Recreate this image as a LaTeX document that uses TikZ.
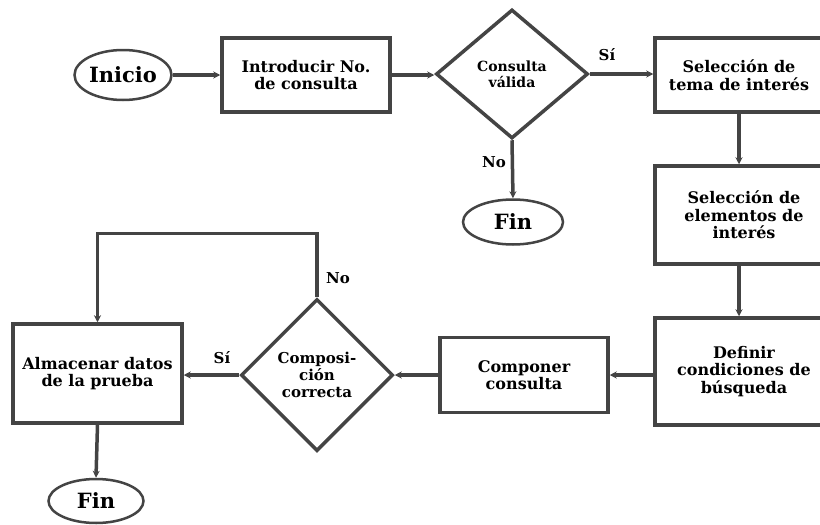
\documentclass[tikz,border=0pt]{standalone}
\usepackage{fontspec}
\setmainfont{DejaVu Serif}
\usetikzlibrary{shapes.geometric,arrows.meta}
\definecolor{ln}{HTML}{444444}
\tikzset{
  box/.style={draw=ln,line width=3.5pt,rectangle,inner sep=2pt,align=center,
    font=\fontsize{16}{17.5}\selectfont\bfseries},
  term/.style={draw=ln,line width=2.5pt,ellipse,inner sep=0pt,
    font=\fontsize{21}{23}\selectfont\bfseries},
  dec/.style={draw=ln,line width=3.5pt,diamond,inner sep=0pt,align=center,
    font=\fontsize{14}{16}\selectfont\bfseries},
  conn/.style={draw=ln,line width=3.5pt},
  arr/.style={conn,-{Stealth[length=7pt,width=7pt]}},
  lbl/.style={font=\fontsize{15}{17}\selectfont\bfseries,inner sep=0pt}
}
\begin{document}
\begin{tikzpicture}[x=1pt,y=-1pt]
\clip (0,0) rectangle (820,525);
\fill[white] (0,0) rectangle (820,525);
\node[term,minimum width=97pt,minimum height=50pt] (inicio) at (123,75) {Inicio};
\node[box,minimum width=168pt,minimum height=74pt] (intro) at (306,75) {Introducir No.\\de consulta};
\node[dec,minimum width=152pt,minimum height=129pt] (d1) at (512,74) {Consulta\\válida};
\node[box,minimum width=168pt,minimum height=74pt] (tema) at (739,75) {Selección de\\tema de interés};
\node[box,minimum width=178pt,minimum height=98pt] (elem) at (744,215) {Selección de\\elementos de\\interés};
\node[box,minimum width=178pt,minimum height=107pt] (defin) at (744,371.5) {Definir\\condiciones de\\búsqueda};
\node[box,minimum width=168pt,minimum height=75pt] (comp) at (524,375) {Componer\\consulta};
\node[dec,minimum width=152pt,minimum height=152pt,font=\fontsize{15}{17}\selectfont\bfseries] (d2) at (317,375) {Composi-\\ción\\correcta};
\node[box,minimum width=169pt,minimum height=99pt] (alm) at (97.5,373.5) {Almacenar datos\\de la prueba};
\node[term,minimum width=100pt,minimum height=45pt] (fin1) at (513,222) {Fin};
\node[term,minimum width=95pt,minimum height=44pt] (fin2) at (96,501) {Fin};

\draw[arr] (inicio.east) -- (inicio.east -| intro.west);
\draw[arr] (intro.east) -- (intro.east -| d1.west);
\draw[arr] (d1.east) -- (d1.east -| tema.west);
\draw[arr] (d1.south) -- (fin1.north);
\draw[arr] (tema.south) -- (tema.south |- elem.north);
\draw[arr] (tema.south |- elem.south) -- (tema.south |- defin.north);
\draw[arr] (comp.east -| defin.west) -- (comp.east);
\draw[arr] (comp.west) -- (d2.east);
\draw[arr] (d2.west) -- (d2.west -| alm.east);
\draw[arr] (d2.north) -- ++(0,-64) coordinate (loop) -| (alm.north);
\draw[arr] (alm.south) -- (fin2.north);

\node[lbl] (si1) at (607,55) {Sí};
\node[lbl] (no1) at (494,162) {No};
\node[lbl] (si2) at (222,358) {Sí};
\node[lbl] (no2) at (338,278) {No};
\end{tikzpicture}
\end{document}
